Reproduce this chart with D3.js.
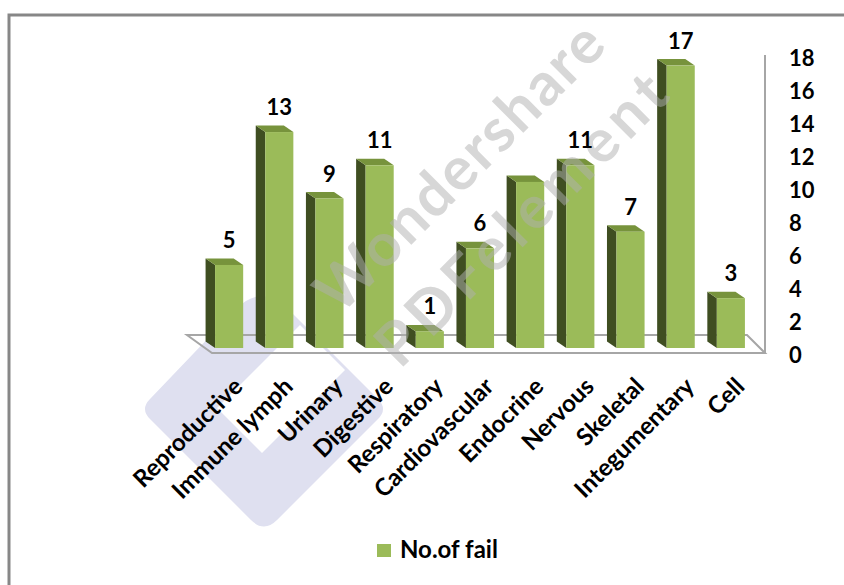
<!DOCTYPE html>
<html>
<head>
<meta charset="utf-8">
<script src="https://cdn.jsdelivr.net/npm/d3@7/dist/d3.min.js"></script>
<style>
  body { margin: 0; background: #fff; }
  svg { display: block; }
  text { font-family: Lato, "Open Sans", sans-serif; font-weight: bold; }
</style>
</head>
<body>
<svg width="844" height="585"></svg>
<script>
const categories = ["Reproductive", "Immune lymph", "Urinary", "Digestive", "Respiratory",
  "Cardiovascular", "Endocrine", "Nervous", "Skeletal", "Integumentary", "Cell"];
const values = [5, 13, 9, 11, 1, 6, 10, 11, 7, 17, 3];
const labelled = [true, true, true, true, true, true, false, true, true, true, true];
const yTicks = [0, 2, 4, 6, 8, 10, 12, 14, 16, 18];
const seriesName = "No.of fail";

const svg = d3.select("svg");

// colours of the three visible bar faces
const frontCol = "#9bbb59", sideCol = "#3f4e21", topCol = "#77933c";
const depth = { dx: -9.5, dy: -6.5 };

const x = d3.scaleBand().domain(categories).range([193, 767]).padding(0.44);
const yBar = d3.scaleLinear().domain([0, 18]).range([348, 49]);
const yTick = d3.scaleLinear().domain([0, 18]).range([355, 58]);

// outer frame (only top and left edges are visible)
svg.append("path")
  .attr("d", "M9,585 L9,15 L844,15")
  .attr("fill", "none").attr("stroke", "#878787").attr("stroke-width", 3);

// watermark logo, sits behind the chart
const logo = svg.append("g");
logo.append("path")
  .attr("d", "M262,296 Q275,296 288,309 L378,399 Q388,409 378,419 L277,520 Q264,533 251,520 L150,419 Q140,409 150,399 L236,309 Q249,296 262,296 Z")
  .attr("fill", "#dfe0f0");
logo.append("path")
  .attr("d", "M300,325 L345,370 L262,453 L217,408 Z")
  .attr("fill", "#fff");

// floor and side wall edge
svg.append("path")
  .attr("d", "M187,335 L747,335 L765,353 L212,353 Z")
  .attr("fill", "none").attr("stroke", "#a6a6a6").attr("stroke-width", 2);
svg.append("line")
  .attr("x1", 765).attr("x2", 765).attr("y1", 55).attr("y2", 354)
  .attr("stroke", "#a6a6a6").attr("stroke-width", 2);

// y axis labels on the right
const axis = svg.append("g")
  .attr("transform", "translate(789,0)")
  .call(d3.axisRight(yTick).tickValues(yTicks).tickSize(0).tickPadding(0));
axis.select(".domain").remove();
axis.selectAll("text")
  .attr("font-size", 22).attr("font-family", "Lato, sans-serif")
  .attr("font-weight", "bold").attr("fill", "#000");

// bars
const bars = svg.append("g").selectAll("g").data(categories).join("g");
const w = x.bandwidth();
bars.append("path") // side
  .attr("d", (d, i) => {
    const x0 = x(d), yt = yBar(values[i]), yb = yBar(0);
    return `M${x0},${yt} L${x0 + depth.dx},${yt + depth.dy} L${x0 + depth.dx},${yb + depth.dy} L${x0},${yb} Z`;
  })
  .attr("fill", sideCol);
bars.append("path") // top
  .attr("d", (d, i) => {
    const x0 = x(d), yt = yBar(values[i]);
    return `M${x0},${yt} L${x0 + depth.dx},${yt + depth.dy} L${x0 + w + depth.dx},${yt + depth.dy} L${x0 + w},${yt} Z`;
  })
  .attr("fill", topCol);
bars.append("rect") // front
  .attr("x", d => x(d)).attr("width", w)
  .attr("y", (d, i) => yBar(values[i]))
  .attr("height", (d, i) => yBar(0) - yBar(values[i]))
  .attr("fill", frontCol);

// watermark text, drawn over the bars
const wm = svg.append("g").attr("opacity", 0.5);
wm.append("text")
  .attr("transform", "translate(474,182) rotate(-45)")
  .attr("text-anchor", "middle").attr("font-size", 60)
  .attr("font-family", "'Open Sans', sans-serif").attr("font-weight", 600)
  .attr("textLength", 380).attr("fill", "#b0b0b0")
  .text("Wondershare");
wm.append("text")
  .attr("transform", "translate(536,234) rotate(-45)")
  .attr("text-anchor", "middle").attr("font-size", 60)
  .attr("font-family", "'Open Sans', sans-serif").attr("font-weight", 600)
  .attr("textLength", 385).attr("fill", "#b0b0b0")
  .text("PDFelement");

// value labels
svg.append("g").selectAll("text")
  .data(categories.filter((d, i) => labelled[i]))
  .join("text")
  .attr("x", d => x(d) + w / 2)
  .attr("y", d => yBar(values[categories.indexOf(d)]) - 17)
  .attr("text-anchor", "middle").attr("font-size", 22)
  .text(d => values[categories.indexOf(d)]);

// category labels, rotated
svg.append("g").selectAll("text").data(categories).join("text")
  .attr("transform", d => `translate(${x(d) + w / 2 + 15},388) rotate(-45)`)
  .attr("text-anchor", "end").attr("font-size", 24)
  .text(d => d);

// legend
svg.append("rect").attr("x", 377).attr("y", 544).attr("width", 14).attr("height", 13)
  .attr("fill", frontCol);
svg.append("text").attr("x", 400).attr("y", 558).attr("font-size", 24).text(seriesName);
</script>
</body>
</html>
